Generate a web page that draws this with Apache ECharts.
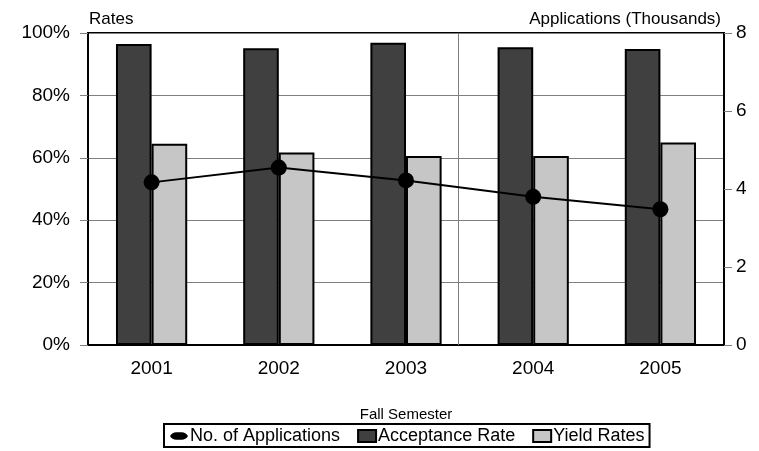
<!DOCTYPE html>
<html>
<head>
<meta charset="utf-8">
<script src="https://cdn.jsdelivr.net/npm/echarts@6/dist/echarts.min.js"></script>
<style>
html,body{margin:0;padding:0;background:#fff;}
#chart{width:759px;height:451px;}
</style>
</head>
<body>
<div id="chart"></div>
<script>
const categories = ['2001', '2002', '2003', '2004', '2005'];
const acceptanceRate = [96.5, 95.1, 96.9, 95.4, 94.9];
const yieldRates = [64.5, 61.7, 60.6, 60.6, 64.9];
const applications = [4.17, 4.55, 4.22, 3.80, 3.48];
const extraGridX = [2.91];

const FONT = 'Liberation Sans, Arial, sans-serif';
const chart = echarts.init(document.getElementById('chart'));
chart.setOption({
  animation: false,
  textStyle: { fontFamily: FONT, color: '#000' },
  grid: { left: 88, right: 35, top: 33, bottom: 106, show: true, borderColor: '#000', borderWidth: 2 },
  legend: {
    bottom: 4, left: 164,
    borderColor: '#000', borderWidth: 2, padding: [3, 5, 2, 6],
    itemGap: 17, itemWidth: 18, itemHeight: 12,
    textStyle: { fontSize: 18, color: '#000', fontFamily: FONT, padding: [0, 0, 0, -3] },
    data: [
      { name: 'No. of Applications', icon: 'path://M0,0.5 A1,1 0 0 1 1,0 L1.4,0 A1,1 0 0 1 2.4,0.5 A1,1 0 0 1 1.4,1 L1,1 A1,1 0 0 1 0,0.5 Z', itemStyle: { color: '#000' } },
      { name: 'Acceptance Rate', icon: 'rect' },
      { name: 'Yield Rates', icon: 'rect' }
    ]
  },
  xAxis: [
    {
      type: 'category', data: categories,
      name: 'Fall Semester', nameLocation: 'middle', nameGap: 62,
      nameTextStyle: { fontSize: 15, color: '#000' },
      axisLine: { lineStyle: { color: '#000', width: 2 } },
      axisTick: { alignWithLabel: true, length: 8, lineStyle: { color: '#000' } },
      axisLabel: { fontSize: 19, color: '#000', margin: 14 },
      splitLine: { show: false }
    },
    {
      type: 'value', min: 0, max: 5, show: false
    }
  ],
  yAxis: [
    {
      type: 'value', min: 0, max: 100, interval: 20,
      name: 'Rates', nameGap: 5,
      nameTextStyle: { fontSize: 17, color: '#000', align: 'left', padding: [0, 0, 0, 1] },
      axisLine: { show: true, lineStyle: { color: '#000', width: 2 } },
      axisTick: { show: true, length: 8, lineStyle: { color: '#808080' } },
      axisLabel: { fontSize: 19, color: '#000', margin: 18, formatter: '{value}%' },
      splitLine: { show: true, lineStyle: { color: '#808080', width: 1 } }
    },
    {
      type: 'value', min: 0, max: 8, interval: 2,
      name: 'Applications (Thousands)', nameGap: 5,
      nameTextStyle: { fontSize: 17, color: '#000', align: 'right', padding: [0, 3, 0, 0] },
      axisLine: { show: true, lineStyle: { color: '#000', width: 2 } },
      axisTick: { show: true, length: 8, lineStyle: { color: '#808080' } },
      axisLabel: { fontSize: 19, color: '#000', margin: 12 },
      splitLine: { show: false }
    }
  ],
  series: [
    {
      name: 'Acceptance Rate', type: 'bar', data: acceptanceRate,
      barWidth: '28%', barGap: '0%',
      itemStyle: { color: '#404040', borderColor: '#000', borderWidth: 2 }
    },
    {
      name: 'Yield Rates', type: 'bar', data: yieldRates,
      barWidth: '28%', barGap: '0%',
      itemStyle: { color: '#c6c6c6', borderColor: '#000', borderWidth: 2 }
    },
    {
      name: 'No. of Applications', type: 'line', yAxisIndex: 1, data: applications,
      symbol: 'circle', symbolSize: 16,
      lineStyle: { color: '#000', width: 2 },
      itemStyle: { color: '#000' },
      z: 5
    },
    {
      name: 'grid-extra', type: 'line', xAxisIndex: 1, yAxisIndex: 0, data: [],
      z: 0,
      markLine: {
        silent: true, symbol: 'none', label: { show: false },
        lineStyle: { color: '#808080', width: 1, type: 'solid' },
        data: extraGridX.map(v => ({ xAxis: v }))
      }
    }
  ]
});
</script>
</body>
</html>
